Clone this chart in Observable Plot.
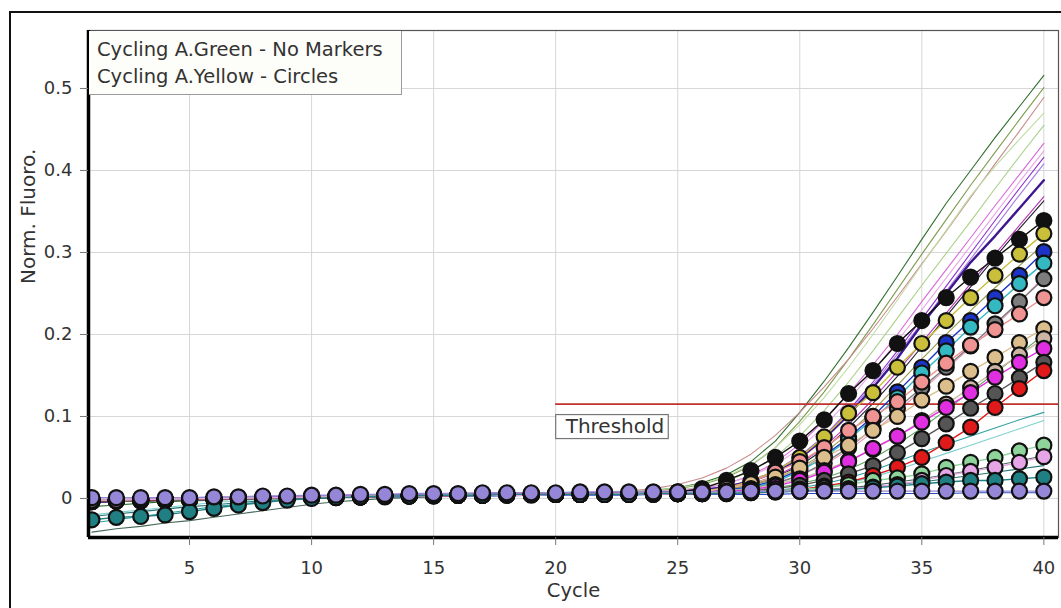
<!DOCTYPE html>
<html><head><meta charset="utf-8">
<script src="https://cdn.jsdelivr.net/npm/d3@7"></script>
<script src="https://cdn.jsdelivr.net/npm/@observablehq/plot@0.6"></script>
<style>
html,body{margin:0;padding:0;background:#fff;width:1061px;height:608px;overflow:hidden;}
#wrap{position:relative;width:1061px;height:608px;overflow:hidden;}
#chart{position:absolute;left:0;top:0;}
#legend{position:absolute;left:89px;top:31px;width:313px;height:64px;border-right:1px solid #9a9a9a;border-bottom:1px solid #9a9a9a;background:#fdfdf9;font-family:"DejaVu Sans",sans-serif;font-size:19.5px;color:#333;padding:5px 0 0 8px;box-sizing:border-box;}
#legend div{height:27px;line-height:27px;white-space:nowrap;}
</style></head>
<body>
<div id="wrap">
  <div id="chart"></div>
  <div id="legend"></div>
</div>
<script>
// ---------------- data ----------------
const cycles = d3.range(1, 41);
const xTicks = [5, 10, 15, 20, 25, 30, 35, 40];
const yTicks = [0, 0.1, 0.2, 0.3, 0.4, 0.5];
const xDomain = [0.86, 40.6];
const yDomain = [-0.0476, 0.5707];
const threshold = 0.115;
const thresholdStart = 20;
const legendLines = ["Cycling A.Green - No Markers", "Cycling A.Yellow - Circles"];
const xLabel = "Cycle";
const yLabel = "Norm. Fluoro.";
const thresholdLabel = "Threshold";

// Cycling A.Green (no markers)
const greenNames = ["G1","G2","G3","G4","G5","G6","G7","G8","G9","G10","G11","G12","G13","G14","G15","G16","G17","G18","G19","G20"];
const greenValues = [
  [-.01,-.008,-.006,-.004,-.003,-.002,-.001,0,.001,.002,.002,.003,.003,.004,.004,.005,.005,.005,.006,.006,.006,.007,.008,.01,.013,.019,.029,.045,.07,.105,.143,.184,.227,.271,.316,.36,.4,.44,.478,.516],
  [-.004,-.003,-.002,-.001,0,0,.001,.001,.002,.002,.003,.003,.004,.004,.004,.005,.005,.005,.006,.006,.006,.007,.007,.009,.012,.017,.026,.04,.062,.094,.13,.17,.212,.255,.298,.34,.382,.422,.462,.501],
  [-.002,-.001,0,0,.001,.001,.002,.002,.003,.003,.004,.004,.004,.005,.005,.005,.006,.006,.006,.007,.007,.008,.009,.012,.017,.025,.037,.054,.077,.105,.136,.17,.207,.246,.286,.326,.367,.408,.448,.489],
  [-.003,-.002,-.001,-.001,0,.001,.001,.002,.002,.003,.003,.004,.004,.004,.005,.005,.005,.006,.006,.006,.006,.007,.007,.008,.01,.014,.021,.033,.051,.076,.107,.142,.18,.22,.26,.299,.338,.378,.417,.455],
  [-.002,-.002,-.001,0,0,.001,.001,.002,.002,.003,.003,.003,.004,.004,.005,.005,.005,.005,.006,.006,.006,.007,.007,.008,.009,.012,.018,.028,.044,.066,.095,.128,.163,.2,.24,.279,.318,.357,.395,.433],
  [-.001,-.001,0,0,.001,.001,.002,.002,.003,.003,.003,.004,.004,.005,.005,.005,.005,.006,.006,.006,.007,.007,.007,.008,.01,.013,.018,.027,.041,.061,.088,.12,.155,.192,.23,.269,.308,.347,.386,.424],
  [-.003,-.002,-.002,-.001,0,0,.001,.001,.002,.002,.003,.003,.004,.004,.004,.005,.005,.005,.006,.006,.006,.006,.007,.007,.008,.01,.014,.021,.033,.051,.076,.107,.142,.18,.219,.259,.299,.339,.378,.416],
  [-.002,-.001,-.001,0,0,.001,.001,.002,.002,.003,.003,.004,.004,.004,.005,.005,.005,.006,.006,.006,.006,.007,.007,.008,.009,.011,.015,.022,.034,.052,.076,.105,.139,.176,.214,.253,.292,.331,.37,.408],
  [-.004,-.003,-.002,-.002,-.001,0,0,.001,.001,.002,.002,.003,.003,.004,.004,.004,.005,.005,.005,.006,.006,.006,.006,.007,.008,.01,.014,.021,.032,.049,.073,.102,.135,.171,.212,.25,.288,.32,.354,.388],
  [-.005,-.004,-.003,-.002,-.001,-.001,0,.001,.001,.002,.002,.003,.003,.004,.004,.004,.005,.005,.005,.005,.006,.006,.006,.007,.007,.009,.012,.017,.026,.04,.06,.086,.116,.149,.185,.222,.258,.294,.329,.363],
  [-.003,-.002,-.002,-.001,0,0,.001,.001,.002,.002,.003,.003,.003,.004,.004,.005,.005,.005,.005,.006,.006,.006,.006,.007,.007,.008,.011,.016,.024,.037,.055,.079,.107,.138,.17,.2,.229,.257,.284,.31],
  [-.002,-.002,-.001,0,0,.001,.001,.002,.002,.002,.003,.003,.004,.004,.004,.005,.005,.005,.005,.006,.006,.006,.006,.007,.007,.008,.01,.013,.019,.028,.041,.059,.081,.106,.132,.158,.184,.21,.24,.27],
  [-.004,-.003,-.002,-.002,-.001,0,0,.001,.001,.002,.002,.003,.003,.003,.004,.004,.004,.005,.005,.005,.005,.006,.006,.006,.006,.007,.008,.01,.013,.018,.025,.035,.049,.066,.086,.108,.13,.153,.176,.2],
  [-.03,-.026,-.022,-.018,-.014,-.01,-.007,-.004,-.002,0,.001,.002,.003,.003,.004,.004,.004,.005,.005,.005,.005,.005,.006,.006,.006,.006,.007,.008,.01,.013,.018,.025,.034,.045,.056,.066,.076,.086,.096,.105],
  [-.02,-.017,-.014,-.011,-.008,-.005,-.003,-.001,0,.001,.002,.002,.003,.003,.004,.004,.004,.005,.005,.005,.005,.005,.005,.006,.006,.006,.006,.007,.008,.01,.014,.019,.026,.035,.045,.055,.065,.075,.085,.095],
  [-.041,-.037,-.034,-.03,-.027,-.023,-.019,-.015,-.011,-.007,-.004,-.002,0,.001,.002,.003,.003,.004,.004,.005,.005,.005,.005,.006,.006,.006,.007,.007,.008,.009,.011,.013,.016,.02,.024,.029,.034,.04,.046,.052],
  [-.004,-.003,-.003,-.002,-.002,-.001,-.001,0,0,.001,.001,.002,.002,.002,.003,.003,.003,.003,.004,.004,.004,.004,.004,.005,.005,.005,.005,.005,.005,.006,.006,.006,.006,.006,.006,.006,.007,.007,.007,.007],
  [-.022,-.019,-.016,-.013,-.01,-.008,-.005,-.003,-.001,0,.001,.002,.003,.003,.004,.004,.004,.005,.005,.005,.005,.005,.006,.006,.006,.006,.007,.007,.008,.009,.01,.012,.014,.017,.02,.024,.028,.032,.036,.04],
  [-.002,-.001,0,0,.001,.001,.002,.002,.003,.003,.003,.004,.004,.005,.005,.005,.006,.006,.006,.006,.007,.007,.008,.01,.013,.018,.027,.041,.062,.09,.123,.16,.2,.242,.285,.327,.369,.405,.438,.47],
  [-.003,-.002,-.002,-.001,0,0,.001,.001,.002,.002,.003,.003,.004,.004,.004,.005,.005,.005,.005,.006,.006,.006,.007,.007,.008,.009,.012,.018,.027,.042,.063,.09,.121,.155,.19,.226,.262,.298,.333,.368]
];
const greenColors = ["#2f6e2c","#7e9c4e","#c98c8c","#a9d088","#d86ad8","#eaa6e6","#8e30d0","#a47ade","#3e1690","#22222e","#98984a","#e898bc","#5fa45f","#2ea0a2","#7ecfd0","#476858","#2848c8","#287676","#bfdca4","#b834b8"];
const greenBold = ["G9"];

// Cycling A.Yellow (circles)
const yellowNames = ["Y1","Y2","Y3","Y4","Y5","Y6","Y7","Y8","Y9","Y10","Y11","Y12","Y13","Y14","Y15"];
const yellowValues = [
  [-.004,-.003,-.003,-.002,-.002,-.001,-.001,0,.001,.001,.002,.002,.003,.003,.004,.004,.004,.005,.005,.005,.005,.006,.006,.006,.008,.012,.022,.034,.05,.07,.096,.128,.156,.189,.217,.245,.27,.293,.316,.339],
  [-.003,-.003,-.002,-.002,-.001,-.001,0,0,.001,.002,.002,.003,.003,.004,.004,.005,.005,.005,.005,.006,.006,.006,.006,.007,.007,.009,.013,.021,.034,.05,.075,.104,.129,.16,.189,.217,.245,.272,.298,.323],
  [-.002,-.002,-.001,-.001,0,0,.001,.001,.002,.002,.003,.003,.004,.004,.004,.005,.005,.005,.005,.006,.006,.006,.006,.006,.007,.008,.01,.014,.022,.035,.052,.074,.1,.13,.16,.19,.217,.245,.272,.301],
  [-.003,-.002,-.002,-.001,-.001,0,0,.001,.001,.002,.002,.003,.003,.004,.004,.004,.005,.005,.005,.005,.006,.006,.006,.006,.006,.007,.009,.013,.02,.033,.05,.072,.097,.123,.153,.18,.209,.235,.262,.287],
  [-.004,-.003,-.003,-.002,-.002,-.001,0,0,.001,.001,.002,.002,.003,.003,.004,.004,.004,.005,.005,.005,.005,.006,.006,.006,.006,.007,.008,.012,.018,.028,.043,.062,.085,.11,.135,.16,.186,.213,.24,.268],
  [-.003,-.003,-.002,-.002,-.001,-.001,0,0,.001,.001,.002,.002,.003,.003,.004,.004,.004,.005,.005,.005,.005,.006,.006,.006,.007,.009,.012,.02,.032,.045,.062,.083,.1,.118,.142,.165,.187,.206,.225,.245],
  [-.003,-.002,-.002,-.001,-.001,0,0,.001,.001,.002,.002,.003,.003,.003,.004,.004,.004,.005,.005,.005,.005,.005,.006,.006,.007,.009,.012,.018,.026,.037,.05,.065,.083,.1,.12,.137,.155,.172,.19,.207],
  [-.003,-.003,-.002,-.002,-.001,-.001,0,0,.001,.001,.002,.002,.003,.003,.004,.004,.004,.005,.005,.005,.005,.005,.006,.006,.006,.007,.009,.012,.017,.024,.034,.046,.06,.076,.095,.115,.135,.155,.175,.195],
  [-.002,-.002,-.001,-.001,0,0,.001,.001,.002,.002,.003,.003,.003,.004,.004,.004,.005,.005,.005,.005,.005,.006,.006,.006,.006,.007,.008,.011,.015,.022,.032,.045,.061,.076,.093,.111,.129,.148,.166,.183],
  [-.004,-.003,-.003,-.002,-.002,-.001,-.001,0,0,.001,.001,.002,.002,.003,.003,.004,.004,.004,.005,.005,.005,.005,.005,.006,.006,.006,.007,.009,.012,.016,.022,.03,.04,.056,.073,.091,.11,.128,.147,.166],
  [-.003,-.002,-.002,-.001,-.001,0,0,.001,.001,.002,.002,.002,.003,.003,.003,.004,.004,.004,.005,.005,.005,.005,.005,.005,.006,.006,.007,.008,.009,.011,.015,.02,.028,.038,.05,.068,.087,.111,.134,.156],
  [-.002,-.002,-.001,-.001,0,0,.001,.001,.001,.002,.002,.003,.003,.003,.004,.004,.004,.005,.005,.005,.005,.005,.006,.006,.006,.007,.007,.008,.009,.011,.013,.017,.022,.025,.03,.038,.044,.05,.058,.065],
  [-.002,-.002,-.001,-.001,0,0,0,.001,.001,.002,.002,.002,.003,.003,.003,.004,.004,.004,.004,.005,.005,.005,.005,.005,.006,.006,.006,.007,.008,.009,.01,.012,.014,.017,.022,.028,.033,.038,.044,.051],
  [-.026,-.023,-.022,-.02,-.016,-.012,-.008,-.005,-.002,0,.001,.002,.003,.003,.004,.004,.004,.005,.005,.005,.005,.005,.005,.006,.006,.006,.006,.007,.008,.009,.01,.011,.013,.015,.018,.02,.022,.022,.024,.026],
  [.001,.001,.001,.001,.001,.002,.002,.003,.003,.004,.004,.005,.005,.006,.006,.006,.007,.007,.007,.007,.008,.008,.008,.008,.008,.008,.008,.009,.009,.009,.009,.009,.009,.009,.009,.009,.009,.009,.009,.009]
];
const yellowColors = ["#111111","#c9bf3a","#1b33c6","#34b8c2","#7d7d7d","#ef9393","#dcbe8c","#cdb5a6","#e02fe0","#555555","#e01a1a","#8fd49b","#e6a6e6","#1f7f82","#9586d8"];

// ---------------- build rows ----------------
const greenRows = greenNames.flatMap((name, i) =>
  greenValues[i].map((v, j) => ({series: name, cycle: cycles[j], value: v, color: greenColors[i]})));
const yellowRows = yellowNames.flatMap((name, i) =>
  yellowValues[i].map((v, j) => ({series: name, cycle: cycles[j], value: v, color: yellowColors[i]})));

const fmtY = d => d === 0 ? "0" : d3.format(".1f")(d);

const chart = Plot.plot({
  width: 1061,
  height: 608,
  marginLeft: 88,
  marginRight: 3,
  marginTop: 30,
  marginBottom: 71,
  x: {domain: xDomain},
  y: {domain: yDomain},
  color: {type: "identity"},
  style: {fontFamily: "'DejaVu Sans', sans-serif", fontSize: "18px", color: "#333", background: "#fff"},
  marks: [
    Plot.gridX(xTicks, {stroke: "#d6d6d6", strokeOpacity: 1}),
    Plot.gridY(yTicks, {stroke: "#d6d6d6", strokeOpacity: 1}),
    Plot.line(greenRows.filter(d => !greenBold.includes(d.series)), {x: "cycle", y: "value", z: "series", stroke: "color", strokeWidth: 1.1, clip: true}),
    Plot.line(greenRows.filter(d => greenBold.includes(d.series)), {x: "cycle", y: "value", z: "series", stroke: "color", strokeWidth: 2.4, clip: true}),
    Plot.ruleY([threshold], {x1: () => thresholdStart, x2: () => xDomain[1], stroke: "#c0302c", strokeWidth: 1.6}),
    Plot.line(yellowRows, {x: "cycle", y: "value", z: "series", stroke: "color", strokeWidth: 1.4, clip: true}),
    Plot.dot(yellowRows, {x: "cycle", y: "value", fill: "color", stroke: "#111", strokeWidth: 2.2, r: 7.5, clip: true}),
    Plot.text([threshold], {x: () => thresholdStart, y: d => d, text: () => thresholdLabel, textAnchor: "start", dx: 10, dy: 22, fontSize: 20, fill: "#333"}),
    Plot.frame({stroke: "#555", strokeWidth: 1.2}),
    Plot.ruleX([xDomain[0]], {stroke: "#000", strokeWidth: 3.5}),
    Plot.ruleY([yDomain[0]], {stroke: "#000", strokeWidth: 3.5}),
    Plot.axisX(xTicks, {tickSize: 8, tickPadding: 16, stroke: "#777", label: null}),
    Plot.axisY(yTicks, {tickSize: 8, tickPadding: 8, stroke: "#777", tickFormat: fmtY, label: null}),
    Plot.text([xLabel], {frameAnchor: "bottom", dy: 59, fontSize: 19.5, fill: "#333"}),
    Plot.text([yLabel], {frameAnchor: "left", dx: -60, rotate: -90, fontSize: 20, fill: "#333"})
  ]
});
document.getElementById("chart").appendChild(chart);

const svg = d3.select(chart);

// box around the threshold label (same coordinate system as the text)
svg.selectAll("text").filter(function() { return this.textContent === thresholdLabel; }).each(function() {
  const b = this.getBBox();
  const r = d3.select(this.parentNode).insert("rect", () => this)
    .attr("x", b.x - 9).attr("y", b.y + 1)
    .attr("width", b.width + 13).attr("height", b.height)
    .attr("fill", "#fff").attr("stroke", "#777").attr("stroke-width", 1.2);
  const t = this.getAttribute("transform");
  if (t) r.attr("transform", t);
});

// outer window border: top edge and left edge only
const border = svg.append("g").attr("stroke", "#111").attr("stroke-width", 2);
border.append("line").attr("x1", 9).attr("x2", 1061).attr("y1", 12).attr("y2", 12);
border.append("line").attr("x1", 10).attr("x2", 10).attr("y1", 11).attr("y2", 608);

// legend (HTML overlay)
d3.select("#legend").selectAll("div").data(legendLines).join("div").text(d => d);
</script>
</body></html>
